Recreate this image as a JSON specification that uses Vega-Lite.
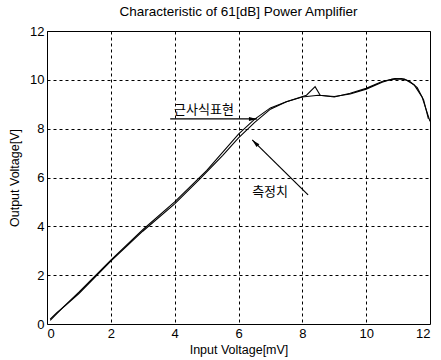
{
  "$schema": "https://vega.github.io/schema/vega-lite/v6.json",
  "width": 383,
  "height": 293,
  "autosize": {"type": "none"},
  "padding": {"left": 47, "top": 31, "right": 11, "bottom": 36},
  "background": "white",
  "title": {"text": "Characteristic of 61[dB] Power Amplifier", "font": "Liberation Sans", "fontSize": 13.5, "fontWeight": "normal", "color": "black", "offset": 7},
  "config": {
    "view": {"stroke": "black", "strokeWidth": 1},
    "axis": {"labelFont": "Liberation Sans", "labelFontSize": 13, "labelColor": "black", "titleFont": "Liberation Sans", "titleFontSize": 12.5, "titleFontWeight": "normal", "titleColor": "black", "grid": true, "gridColor": "black", "gridDash": [3, 3], "gridOpacity": 1, "gridWidth": 1, "domain": false, "ticks": false}
  },
  "datasets": {
    "curves": [
      {"series": "measured", "x": 0.1, "y": 0.2},
      {"series": "measured", "x": 0.3, "y": 0.45},
      {"series": "measured", "x": 0.6, "y": 0.78},
      {"series": "measured", "x": 1, "y": 1.25},
      {"series": "measured", "x": 2, "y": 2.58},
      {"series": "measured", "x": 3, "y": 3.8},
      {"series": "measured", "x": 4, "y": 4.92},
      {"series": "measured", "x": 4.8, "y": 5.95},
      {"series": "measured", "x": 5.5, "y": 6.9},
      {"series": "measured", "x": 6, "y": 7.62},
      {"series": "measured", "x": 6.5, "y": 8.25},
      {"series": "measured", "x": 7, "y": 8.8},
      {"series": "measured", "x": 7.5, "y": 9.1},
      {"series": "measured", "x": 8, "y": 9.3},
      {"series": "measured", "x": 8.5, "y": 9.37},
      {"series": "measured", "x": 9, "y": 9.32},
      {"series": "measured", "x": 9.5, "y": 9.42},
      {"series": "measured", "x": 10, "y": 9.62},
      {"series": "measured", "x": 10.5, "y": 9.9},
      {"series": "measured", "x": 10.8, "y": 10.02},
      {"series": "measured", "x": 11.1, "y": 10.05},
      {"series": "measured", "x": 11.35, "y": 9.95},
      {"series": "measured", "x": 11.6, "y": 9.68},
      {"series": "measured", "x": 11.8, "y": 9.18},
      {"series": "measured", "x": 11.95, "y": 8.4},
      {"series": "approx", "x": 0.1, "y": 0.15},
      {"series": "approx", "x": 0.5, "y": 0.68},
      {"series": "approx", "x": 1, "y": 1.3},
      {"series": "approx", "x": 2, "y": 2.62},
      {"series": "approx", "x": 3, "y": 3.86},
      {"series": "approx", "x": 4, "y": 5.0},
      {"series": "approx", "x": 5, "y": 6.28},
      {"series": "approx", "x": 6, "y": 7.78},
      {"series": "approx", "x": 6.5, "y": 8.38},
      {"series": "approx", "x": 7, "y": 8.85},
      {"series": "approx", "x": 7.5, "y": 9.1},
      {"series": "approx", "x": 8.13, "y": 9.37},
      {"series": "approx", "x": 8.4, "y": 9.72},
      {"series": "approx", "x": 8.56, "y": 9.37},
      {"series": "approx", "x": 9, "y": 9.3},
      {"series": "approx", "x": 9.5, "y": 9.45},
      {"series": "approx", "x": 10, "y": 9.65},
      {"series": "approx", "x": 10.5, "y": 9.93},
      {"series": "approx", "x": 10.9, "y": 10.05},
      {"series": "approx", "x": 11.2, "y": 10.03},
      {"series": "approx", "x": 11.5, "y": 9.8},
      {"series": "approx", "x": 11.75, "y": 9.3},
      {"series": "approx", "x": 12, "y": 8.3}
    ],
    "arrows": [
      {"x": 3.86, "y": 8.4, "x2": 6.58, "y2": 8.4, "angle": 90},
      {"x": 8.18, "y": 5.29, "x2": 6.43, "y2": 7.54, "angle": 315}
    ],
    "labels": [
      {"x": 4.92, "y": 8.77, "text": "근사식표현"},
      {"x": 6.99, "y": 5.41, "text": "측정치"}
    ]
  },
  "layer": [
    {
      "data": {"name": "curves"},
      "mark": {"type": "line", "strokeWidth": 1.1, "interpolate": "linear"},
      "encoding": {
        "x": {"field": "x", "type": "quantitative", "scale": {"domain": [0, 12], "nice": false, "zero": false}, "axis": {"values": [0, 2, 4, 6, 8, 10, 12], "title": "Input Voltage[mV]", "labelPadding": 3, "titlePadding": 3}},
        "y": {"field": "y", "type": "quantitative", "scale": {"domain": [0, 12], "nice": false, "zero": false}, "axis": {"values": [0, 2, 4, 6, 8, 10, 12], "title": "Output Voltage[V]", "labelPadding": 3, "titlePadding": 8}},
        "detail": {"field": "series", "type": "nominal"},
        "color": {"value": "black"}
      }
    },
    {
      "data": {"name": "arrows"},
      "mark": {"type": "rule", "color": "black", "strokeWidth": 1.2},
      "encoding": {
        "x": {"field": "x", "type": "quantitative"},
        "y": {"field": "y", "type": "quantitative"},
        "x2": {"field": "x2"},
        "y2": {"field": "y2"}
      }
    },
    {
      "data": {"name": "arrows"},
      "mark": {"type": "point", "shape": "M0,0L0.45,1.8L-0.45,1.8Z", "filled": true, "color": "black", "opacity": 1, "size": 81},
      "encoding": {
        "x": {"field": "x2", "type": "quantitative"},
        "y": {"field": "y2", "type": "quantitative"},
        "angle": {"field": "angle", "type": "quantitative", "scale": null}
      }
    },
    {
      "data": {"name": "labels"},
      "mark": {"type": "text", "font": "Noto Sans CJK KR", "fontSize": 13, "color": "black", "align": "center", "baseline": "middle"},
      "encoding": {
        "x": {"field": "x", "type": "quantitative"},
        "y": {"field": "y", "type": "quantitative"},
        "text": {"field": "text"}
      }
    }
  ]
}
